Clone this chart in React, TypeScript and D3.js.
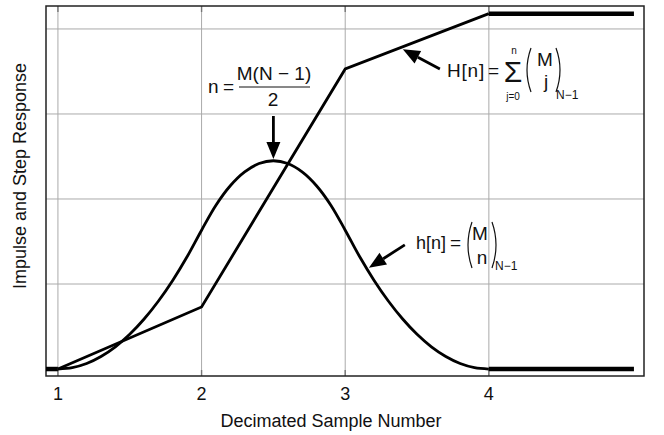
import React from "react";
import * as d3 from "d3";

const W = 664;
const H = 435;

const xTicks = [1, 2, 3, 4];
const xTickLabels = ["1", "2", "3", "4"];
const yGrid = [1, 2, 3, 4];

// impulse response h[n] (bell shape), sampled every 0.1
const impulseX = [1, 1.1, 1.2, 1.3, 1.4, 1.5, 1.6, 1.7, 1.8, 1.9, 2, 2.1, 2.2, 2.3, 2.4, 2.5, 2.6, 2.7, 2.8, 2.9, 3, 3.1, 3.2, 3.3, 3.4, 3.5, 3.6, 3.7, 3.8, 3.9, 4];
const impulseY = [0, 0.016, 0.065, 0.147, 0.261, 0.408, 0.588, 0.8, 1.045, 1.323, 1.633, 1.927, 2.156, 2.319, 2.417, 2.45, 2.417, 2.319, 2.156, 1.927, 1.633, 1.323, 1.045, 0.8, 0.588, 0.408, 0.261, 0.147, 0.065, 0.016, 0];

// step response H[n]
const stepX = [1, 2, 3, 4];
const stepY = [0, 0.73, 3.53, 4.18];

// flat (thick) extensions
const flatStart = [0.917, 1];
const flatEnd = [4, 5.01];
const impulseFlatLevel = 0;
const stepFlatLevel = 4.18;

const xLabel = "Decimated Sample Number";
const yLabel = "Impulse and Step Response";

const FONT = "'Liberation Sans', Arial, Helvetica, sans-serif";

export default function App() {
  const left = 46, right = 644, top = 6, bottom = 376;
  const x = d3.scaleLinear().domain([0.917, 5.08]).range([left, right]);
  const y = d3.scaleLinear().domain([-0.082, 4.27]).range([bottom, top]);

  const pairs = (xs: number[], ys: number[]) => xs.map((v, i) => [v, ys[i]] as [number, number]);
  const line = d3.line<[number, number]>().x(d => x(d[0])).y(d => y(d[1]));
  const smooth = d3.line<[number, number]>().x(d => x(d[0])).y(d => y(d[1])).curve(d3.curveCatmullRom);

  const impulsePath = smooth(pairs(impulseX, impulseY)) || "";
  const stepPath = line(pairs(stepX, stepY)) || "";
  const flatLeft = line(flatStart.map(v => [v, impulseFlatLevel] as [number, number])) || "";
  const flatRightLow = line(flatEnd.map(v => [v, impulseFlatLevel] as [number, number])) || "";
  const flatRightHigh = line(flatEnd.map(v => [v, stepFlatLevel] as [number, number])) || "";

  const arrow = (x1: number, y1: number, x2: number, y2: number, key: string) => {
    const ang = Math.atan2(y2 - y1, x2 - x1);
    const len = 17, hw = 7;
    const bx = x2 - len * Math.cos(ang), by = y2 - len * Math.sin(ang);
    const px = -Math.sin(ang) * hw, py = Math.cos(ang) * hw;
    return (
      <g key={key}>
        <line x1={x1} y1={y1} x2={bx} y2={by} stroke="#000" strokeWidth={2.8} />
        <polygon points={`${x2},${y2} ${bx + px},${by + py} ${bx - px},${by - py}`} fill="#000" />
      </g>
    );
  };

  const paren = (px: number, y0: number, y1: number, dir: number, key: string) => (
    <path key={key} d={`M${px},${y0} Q${px - 8 * dir},${(y0 + y1) / 2} ${px},${y1}`} fill="none" stroke="#111" strokeWidth={1.2} />
  );

  return (
    <svg width={W} height={H} style={{ position: "absolute", left: 0, top: 0, background: "#fff" }} fontFamily={FONT}>
      <rect x={0} y={0} width={W} height={H} fill="#fff" />
      {/* grid */}
      {xTicks.map(t => (
        <line key={"gx" + t} x1={x(t)} x2={x(t)} y1={top} y2={bottom} stroke="#aaa" strokeWidth={1} />
      ))}
      {xTicks.map(t => (
        <g key={"tk" + t}>
          <line x1={x(t)} x2={x(t)} y1={top} y2={top + 6} stroke="#777" strokeWidth={1.4} />
          <line x1={x(t)} x2={x(t)} y1={bottom - 6} y2={bottom} stroke="#777" strokeWidth={1.4} />
        </g>
      ))}
      {yGrid.map(t => (
        <line key={"gy" + t} x1={left} x2={right} y1={y(t)} y2={y(t)} stroke="#aaa" strokeWidth={1} />
      ))}
      {/* frame */}
      <rect x={left} y={top} width={right - left} height={bottom - top} fill="none" stroke="#222" strokeWidth={1.5} />

      {/* curves */}
      <path d={impulsePath} fill="none" stroke="#000" strokeWidth={2.8} />
      <path d={stepPath} fill="none" stroke="#000" strokeWidth={2.8} strokeLinejoin="miter" />
      <path d={flatLeft} fill="none" stroke="#000" strokeWidth={4.5} />
      <path d={flatRightLow} fill="none" stroke="#000" strokeWidth={4.5} />
      <path d={flatRightHigh} fill="none" stroke="#000" strokeWidth={4.5} />

      {/* tick labels */}
      {xTicks.map((t, i) => (
        <text key={"tl" + t} x={x(t)} y={400} textAnchor="middle" fontSize={18} fill="#111">{xTickLabels[i]}</text>
      ))}
      <text x={331} y={427} textAnchor="middle" fontSize={18} fill="#111">{xLabel}</text>
      <text transform="translate(26,176) rotate(-90)" textAnchor="middle" fontSize={18} fill="#111">{yLabel}</text>

      {/* annotation: peak */}
      <g fontSize={19} fill="#111">
        <text x={208} y={93}>n</text>
        <text x={223} y={93}>=</text>
        <text x={274} y={80} textAnchor="middle">M(N − 1)</text>
        <line x1={239} x2={310} y1={87} y2={87} stroke="#111" strokeWidth={1} />
        <text x={273} y={106} textAnchor="middle">2</text>
      </g>
      {arrow(x(2.5), 116, x(2.5), y(2.47), "a1")}

      {/* annotation: step */}
      {arrow(x(3.659), y(3.53), x(3.401), y(3.76), "a2")}
      <g fill="#111">
        <text x={447} y={77} fontSize={19} letterSpacing={0.8}>H[n]</text>
        <text x={488} y={77} fontSize={19}>=</text>
        <text x={513} y={82} fontSize={30} textAnchor="middle">Σ</text>
        <text x={514} y={54} fontSize={10} textAnchor="middle">n</text>
        <text x={513} y={100} fontSize={10} textAnchor="middle">j=0</text>
        {paren(531, 48, 92, 1, "p1")}
        <text x={545} y={66} fontSize={19} textAnchor="middle">M</text>
        <text x={546} y={88} fontSize={19} textAnchor="middle">j</text>
        {paren(556, 48, 92, -1, "p2")}
        <text x={556} y={99} fontSize={12}>N−1</text>
      </g>

      {/* annotation: impulse */}
      {arrow(x(3.415), y(1.46), x(3.165), y(1.19), "a3")}
      <g fill="#111">
        <text x={416} y={249} fontSize={18}>h[n]</text>
        <text x={450} y={249} fontSize={19}>=</text>
        {paren(472, 222, 268, 1, "p3")}
        <text x={480} y={240} fontSize={19} textAnchor="middle">M</text>
        <text x={482} y={264} fontSize={19} textAnchor="middle">n</text>
        {paren(492, 222, 268, -1, "p4")}
        <text x={495} y={270} fontSize={12}>N−1</text>
      </g>
    </svg>
  );
}
